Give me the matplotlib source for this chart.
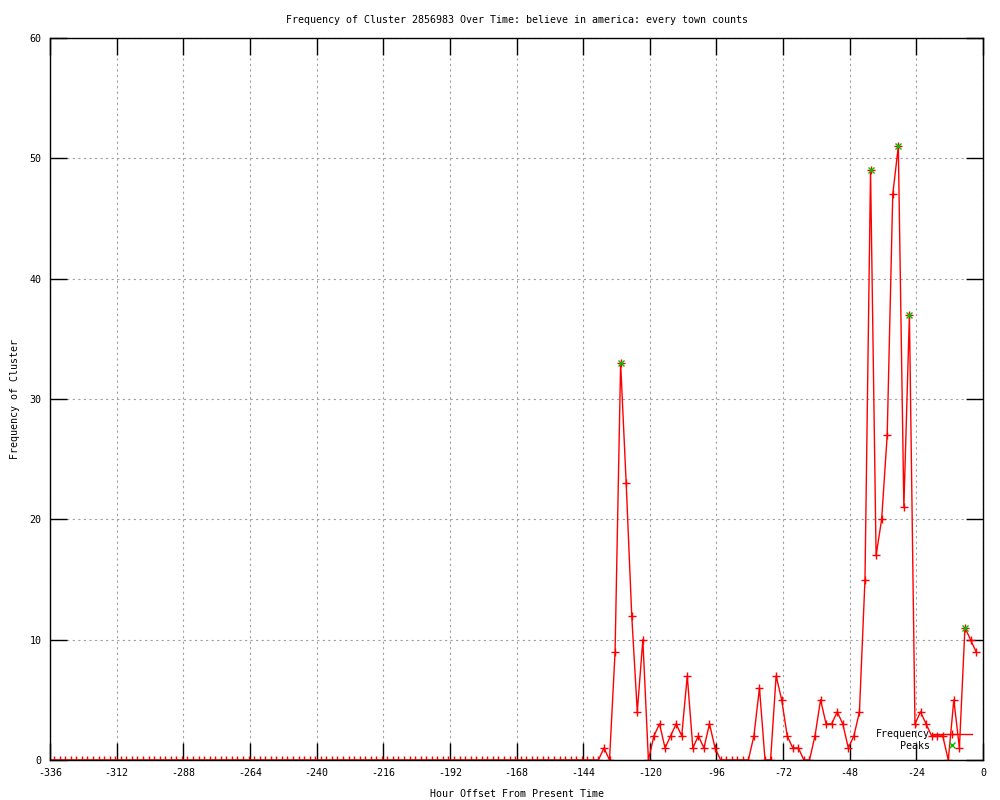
import numpy as np
import matplotlib
matplotlib.use("Agg")
from matplotlib import pyplot as plt

plt.rcParams['font.family'] = ['DejaVu Sans Mono']
plt.rcParams['font.size'] = 7.2
plt.rcParams['axes.titlesize'] = 7.2
plt.rcParams['axes.unicode_minus'] = False

# hour offsets, one sample every 2 hours
hours = np.arange(-336.5, -2.0, 2.0)

# nothing before -144
freq_early = [0] * 96
# -144.5 .. -2.5
freq_late = [0, 0, 0, 0, 1, 0, 9, 33, 23, 12, 4, 10,
             0, 2, 3, 1, 2, 3, 2, 7, 1, 2, 1, 3,
             1, 0, 0, 0, 0, 0, 0, 2, 6, 0, 0, 7,
             5, 2, 1, 1, 0, 0, 2, 5, 3, 3, 4, 3,
             1, 2, 4, 15, 49, 17, 20, 27, 47, 51, 21, 37,
             3, 4, 3, 2, 2, 2, 0, 5, 1, 11, 10, 9]
freq = freq_early + freq_late

peak_hours = [-130.5, -40.5, -30.5, -26.5, -6.5]
peak_values = [33, 49, 51, 37, 11]

xticks = list(range(-336, 1, 24))
yticks = list(range(0, 61, 10))

fig = plt.figure(figsize=(10, 8), dpi=100)
ax = fig.add_axes([0.05, 0.05, 0.933, 0.9025])

ax.plot(hours, freq, color='red', lw=1, marker='+', ms=6, mew=1, label='Frequency')
ax.plot(peak_hours, peak_values, ls='none', color='#00c000', marker='x', ms=5, mew=1, label='Peaks')

ax.set_xlim(-336, 0)
ax.set_ylim(0, 60)
ax.set_xticks(xticks)
ax.set_yticks(yticks)
ax.set_xticklabels([str(t) for t in xticks])
ax.tick_params(direction='in', length=12, width=1, top=True, right=True, pad=6)
for s in ax.spines.values():
    s.set_linewidth(1)

ax.grid(True, color='#a0a0a0', ls=(0, (2, 3)), lw=0.8)

ax.set_title('Frequency of Cluster 2856983 Over Time: believe in america: every town counts', pad=11)
ax.set_xlabel('Hour Offset From Present Time', labelpad=8)
ax.set_ylabel('Frequency of Cluster', labelpad=7)

ax.legend(loc='lower right', bbox_to_anchor=(0.988, 0.013), frameon=False, markerfirst=False,
          handlelength=4, handletextpad=0.2, labelspacing=0.15, borderpad=0, borderaxespad=0)

fig.savefig('out.png', dpi=100)
